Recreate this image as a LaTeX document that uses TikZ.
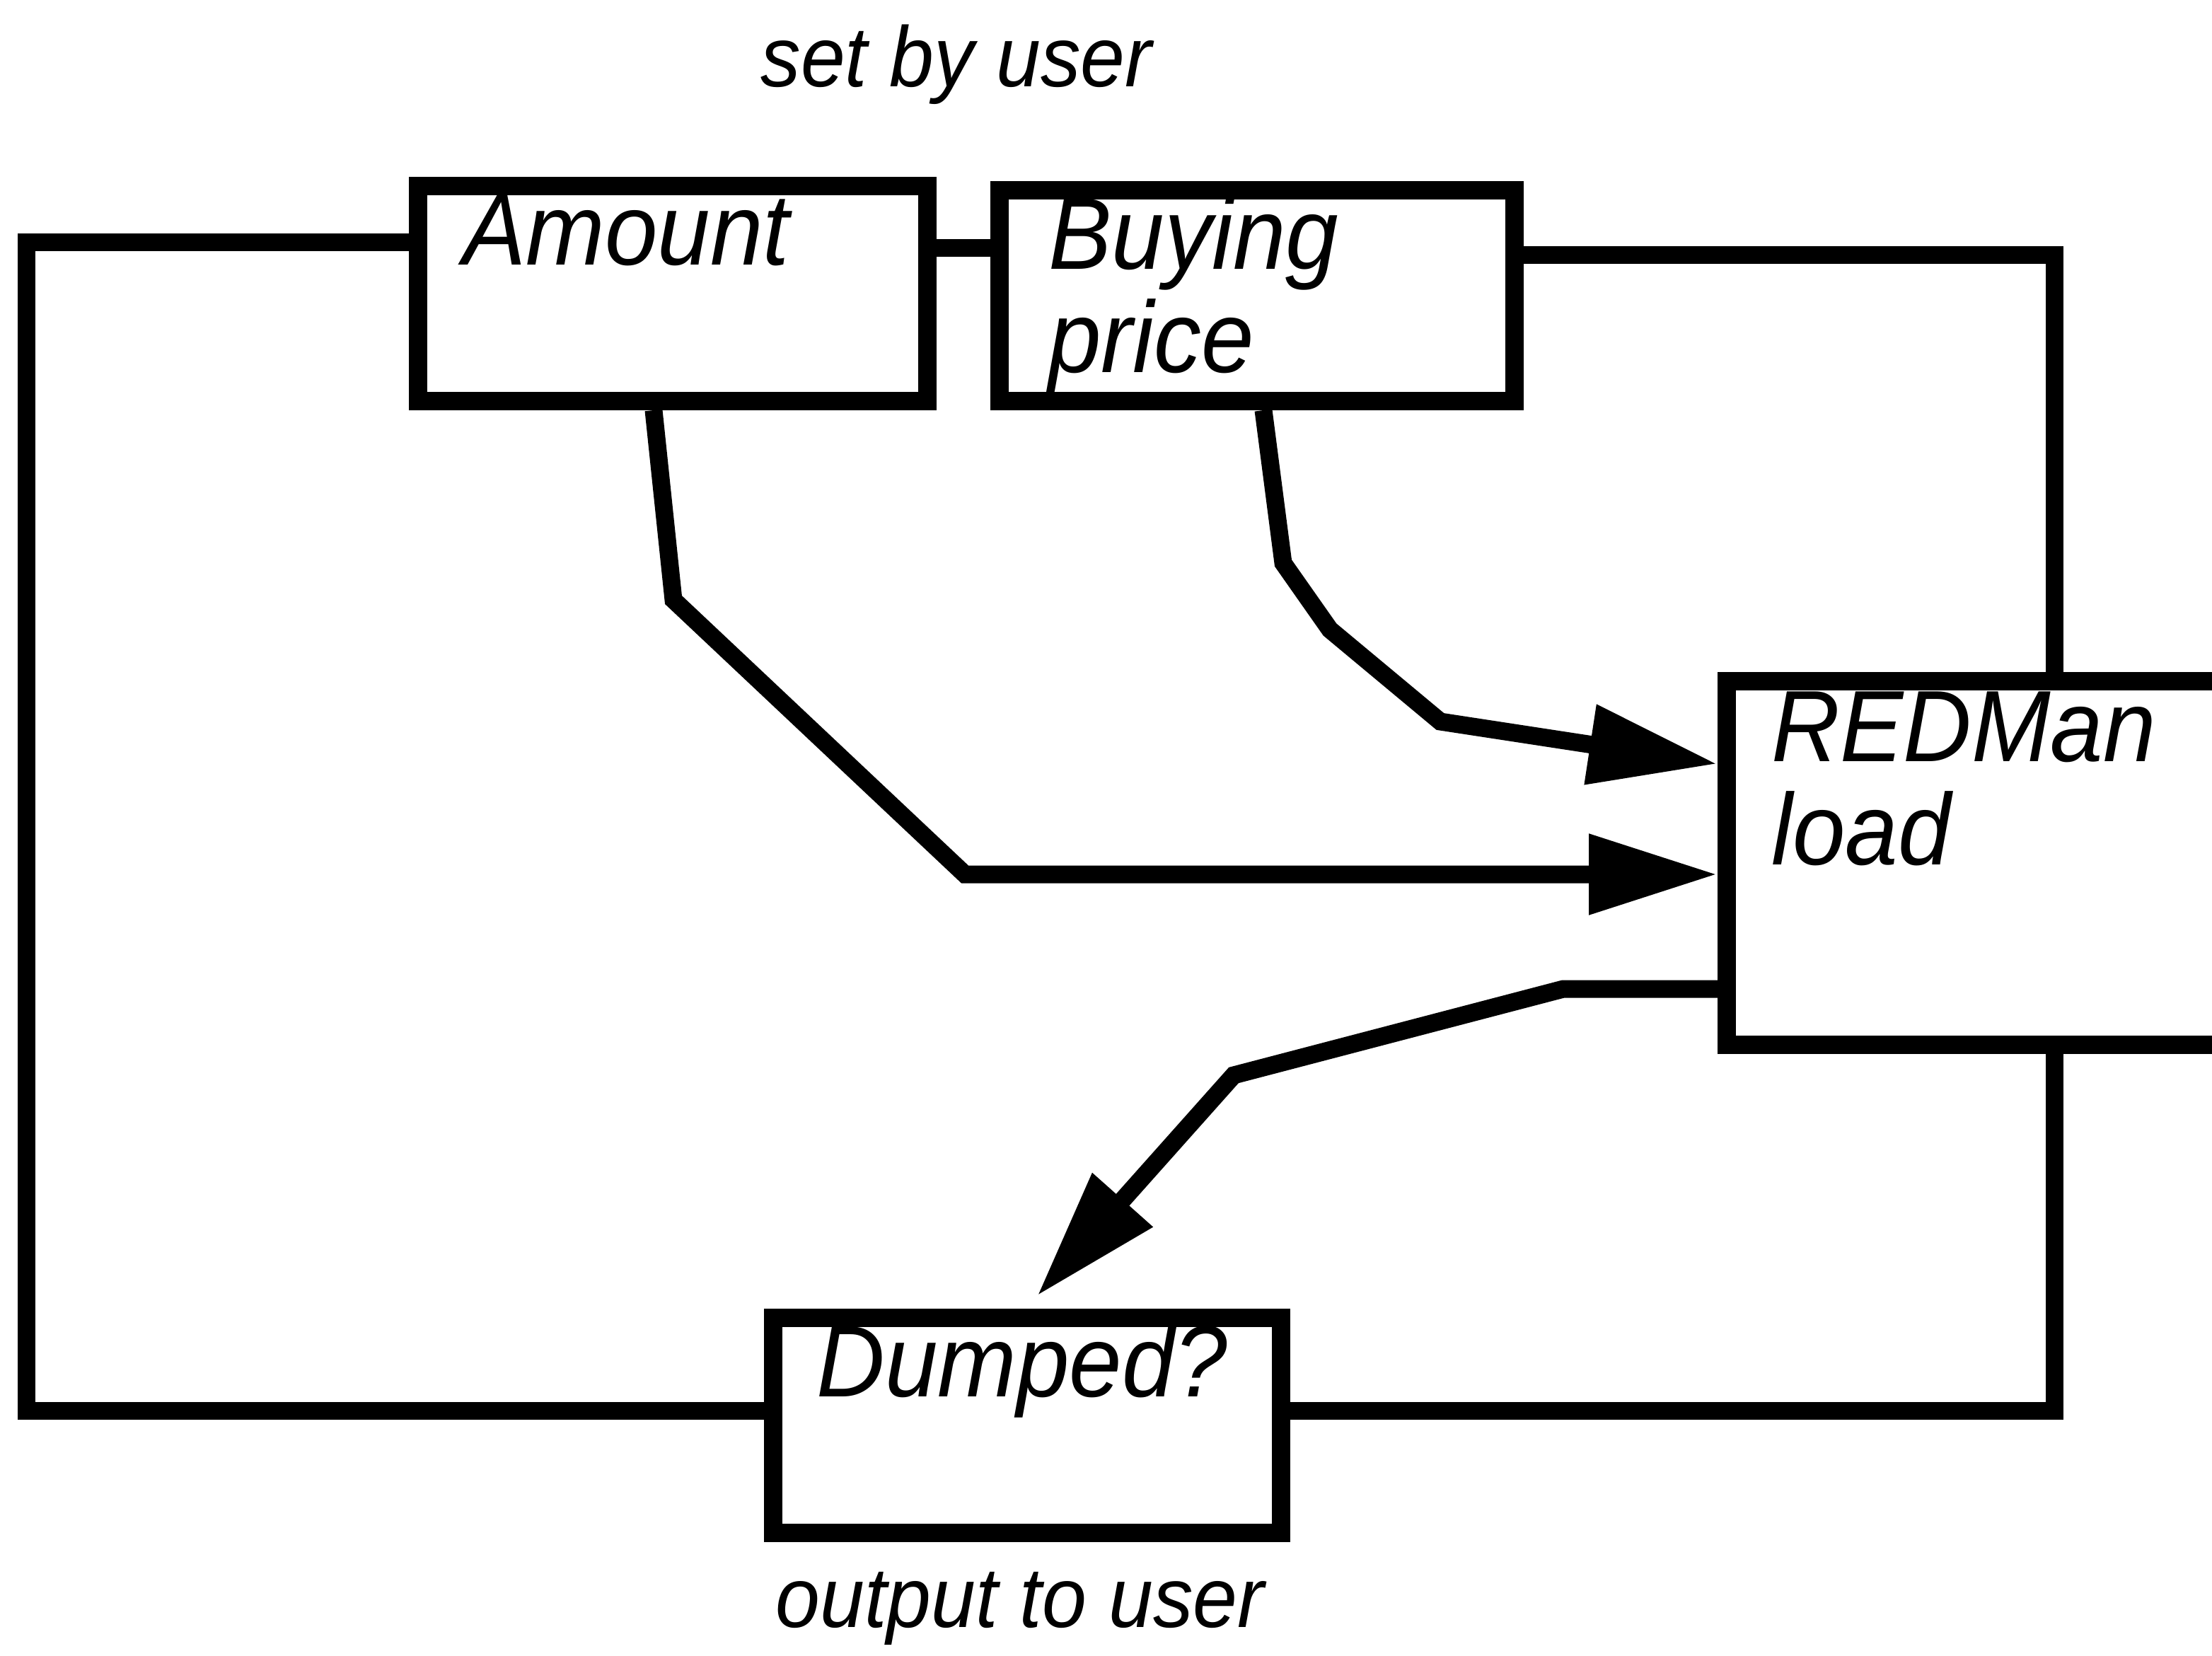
\documentclass[tikz,border=0pt]{standalone}
\usepackage{fontspec}
\setmainfont{Liberation Sans}
\usetikzlibrary{arrows.meta}
\newcommand{\tall}[1]{\scalebox{1}[1.07]{#1}}
\begin{document}
\begin{tikzpicture}[x=1pt,y=-1pt,
  box/.style={draw,line width=13pt,rectangle,inner sep=0pt,anchor=north west},
  lbl/.style={inner sep=0pt,anchor=base west,font=\fontsize{67}{72}\selectfont\itshape},
  captxt/.style={inner sep=0pt,anchor=base,font=\fontsize{56.5}{60}\selectfont\itshape},
  conn/.style={line width=12.5pt},
  arr/.style={line width=12.5pt,-{Triangle[length=91pt,width=54pt]}}]
\clip (0,0) rectangle (1563.5,1170);
\fill[white] (0,0) rectangle (1563.5,1170);
% boxes (outer edges)
\node[box,minimum width=360pt,minimum height=152pt] (amount) at (289,125) {};
\node[box,minimum width=364pt,minimum height=149pt] (buying) at (700,128) {};
\node[box,minimum width=492pt,minimum height=257pt] (redman) at (1214,475) {};
\node[box,minimum width=359pt,minimum height=152pt] (dumped) at (540,925) {};
% labels
\node[lbl] (tamount) at (327,187) {\tall{Amount}};
\node[lbl] (tbuying) at (741,190) {\tall{Buying}};
\node[lbl] (tprice) at (741,263) {\tall{price}};
\node[lbl] (tredman) at (1252,538) {\tall{REDMan}};
\node[lbl] (tload) at (1252,611) {\tall{load}};
\node[lbl] (tdumped) at (577,987) {\tall{Dumped?}};
\node[captxt] (tset) at (676,61) {\tall{set by user}};
\node[captxt] (tout) at (721,1150) {\tall{output to user}};
% connectors
\draw[conn] (amount.west |- 0,171) -- (18.5,171) -- (18.5,997) -- (dumped.west |- 0,997);
\draw[conn] (amount.east |- 0,175) -- (buying.west |- 0,175);
\draw[conn] (buying.east |- 0,180) -- (1452,180) -- (1452,0 |- redman.north);
\draw[conn] (1452,0 |- redman.south) -- (1452,997) -- (dumped.east |- 0,997);
% arrows
\draw[arr] (462,0 |- amount.south) -- (476,424) -- (682,618) -- (redman.west |- 0,618);
\draw[arr] (893,0 |- buying.south) -- (907,398) -- (940,445) -- (1018,510) -- (redman.west |- 0,540);
\draw[arr] (redman.west |- 0,699) -- (1105,699) -- (872,760) -- (733,916);
\end{tikzpicture}
\end{document}
